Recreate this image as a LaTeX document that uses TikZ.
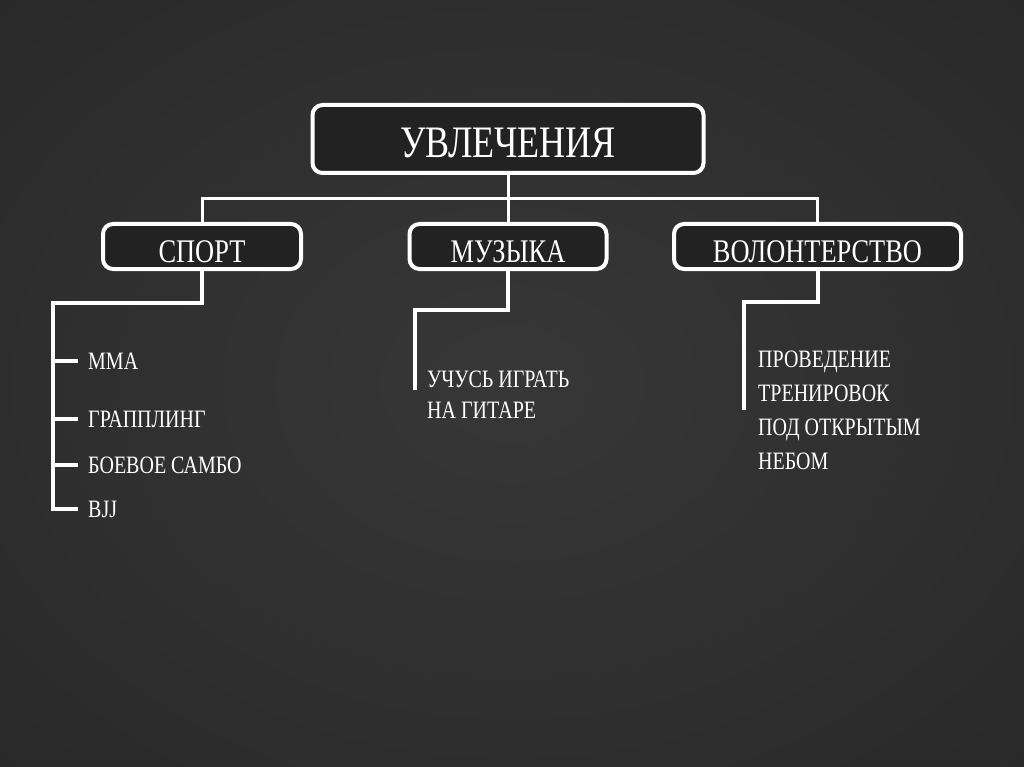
\documentclass[tikz,border=0pt]{standalone}
\usepackage{fontspec}
\setmainfont[FakeStretch=0.8]{Liberation Serif}
\usepackage{xcolor}

\definecolor{board}{HTML}{1B1B1B}
\definecolor{boardlight}{HTML}{373737}
\definecolor{boxfill}{HTML}{222222}
\pgfdeclareradialshading{boardshade}{\pgfpoint{0bp}{0bp}}{color(0bp)=(boardlight); color(72bp)=(board)}

\begin{document}
\begin{tikzpicture}[x=1pt, y=-1pt,
  tbox/.style={draw=white, line width=4pt, rounded corners=10pt, fill=boxfill, text=white, inner sep=0pt, text depth=0pt},
  bus/.style={draw=white, line width=3pt},
  branch/.style={draw=white, line width=4pt},
  item/.style={text=white, inner sep=0pt, font=\fontsize{25}{30}\selectfont, text height=17pt, text depth=0pt},
  note/.style={text=white, inner sep=0pt, align=left}]
  \useasboundingbox (0,0) rectangle (1024,767);
  \shade[shading=boardshade] (0,0) rectangle (1024,767);
  % корень и три ветки
  \node[tbox, minimum width=391pt, minimum height=68pt, text height=38pt, font=\fontsize{45}{54}\selectfont] (top) at (508,139) {УВЛЕЧЕНИЯ};
  \node[tbox, minimum width=198pt, minimum height=45pt, text height=31pt, font=\fontsize{33}{40}\selectfont] (sport) at (202,246.5) {СПОРТ};
  \node[tbox, minimum width=197pt, minimum height=45pt, text height=31pt, font=\fontsize{33}{40}\selectfont] (music) at (508,246.5) {МУЗЫКА};
  \node[tbox, minimum width=287pt, minimum height=45pt, text height=31pt, font=\fontsize{33}{40}\selectfont] (vol) at (817.5,246.5) {ВОЛОНТЕРСТВО};
  \coordinate (bus) at (508,199);
  \draw[bus] (top.south) -- (music.north);
  \draw[bus] (sport.north) |- (bus) -| (vol.north);
  % спорт
  \node[item, anchor=base west] (mma) at (88,369) {ММА};
  \node[item, anchor=base west] (grappling) at (88,427) {ГРАППЛИНГ};
  \node[item, anchor=base west] (sambo) at (88,473) {БОЕВОЕ САМБО};
  \node[item, anchor=base west] (bjj) at (88,517) {BJJ};
  \coordinate (sportL) at (53,303);
  \draw[branch] (sport.south) |- (sportL) |- ([xshift=-10pt]bjj.west);
  \draw[branch] (sportL |- mma.west) -- ([xshift=-10pt]mma.west);
  \draw[branch] (sportL |- grappling.west) -- ([xshift=-10pt]grappling.west);
  \draw[branch] (sportL |- sambo.west) -- ([xshift=-10pt]sambo.west);
  % музыка
  \node[note, anchor=north west, font=\fontsize{25}{31}\selectfont] (guitar) at (427,370.5) {УЧУСЬ ИГРАТЬ\\НА ГИТАРЕ};
  \coordinate (musicL) at (415,310);
  \coordinate (musicE) at (415,390);
  \draw[branch] (music.south) |- (musicL) -- (musicE);
  % волонтерство
  \node[note, anchor=north west, font=\fontsize{25}{34}\selectfont] (training) at (758,350.5) {ПРОВЕДЕНИЕ\\ТРЕНИРОВОК\\ПОД ОТКРЫТЫМ\\НЕБОМ};
  \coordinate (volL) at (744,302);
  \coordinate (volE) at (744,410);
  \draw[branch] (vol.south) |- (volL) -- (volE);
\end{tikzpicture}
\end{document}
